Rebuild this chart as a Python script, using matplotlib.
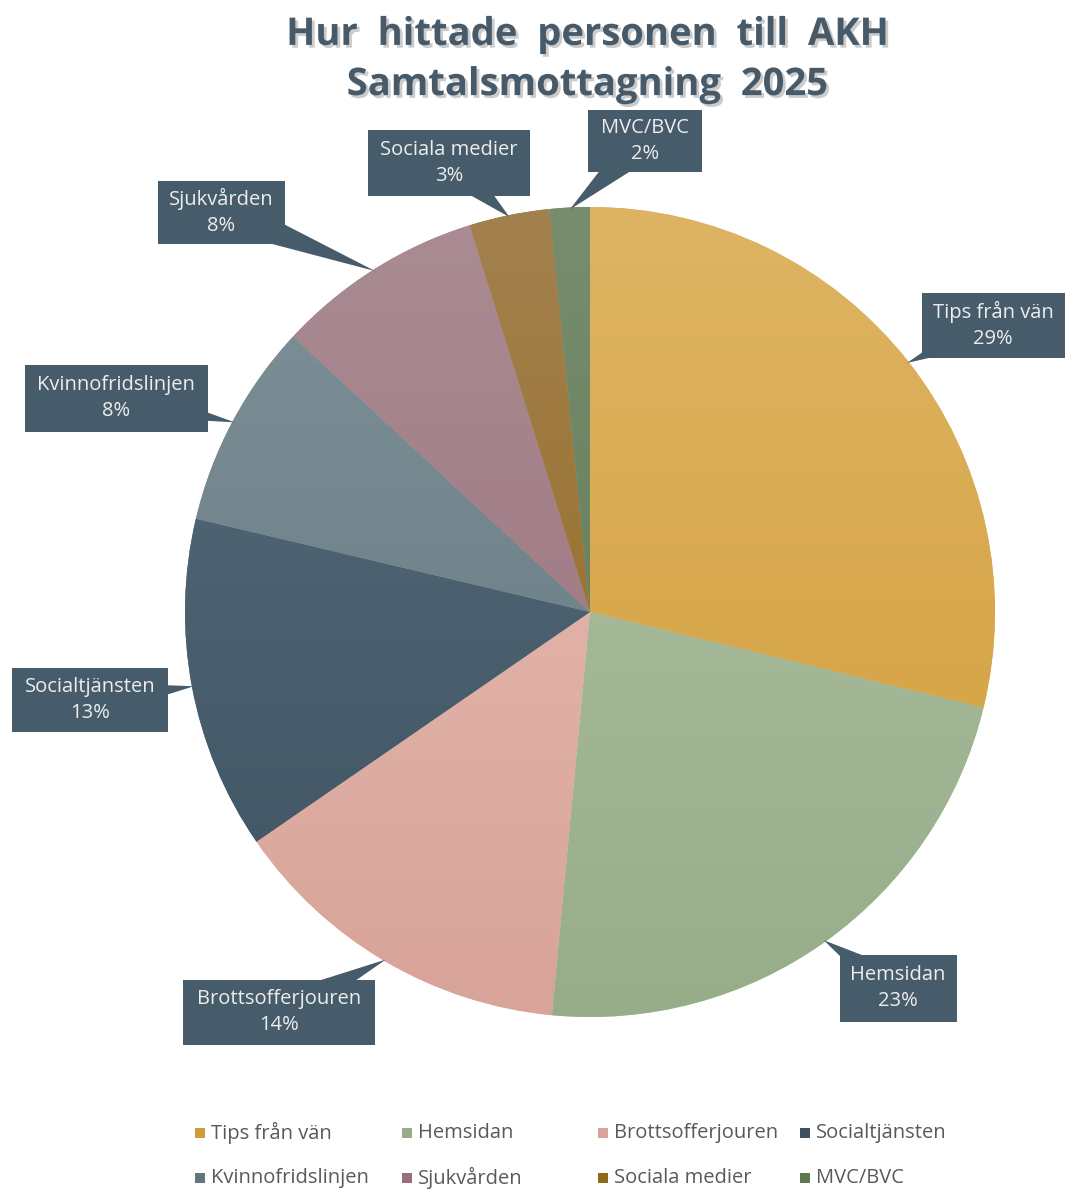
import numpy as np
import matplotlib.pyplot as plt
import matplotlib.patheffects as pe
from matplotlib.colors import to_rgb
from matplotlib.patches import Polygon, Rectangle

# data
categories = ["Tips från vän", "Hemsidan", "Brottsofferjouren", "Socialtjänsten",
              "Kvinnofridslinjen", "Sjukvården", "Sociala medier", "MVC/BVC"]
shares = [28.8, 22.7, 13.9, 13.3, 8.2, 8.3, 3.2, 1.6]
top_colors = ["#DEB463", "#B2C4A7", "#EAC0B7", "#586E7D", "#7F9198", "#AA8C93", "#A3814E", "#778D6E"]
bottom_colors = ["#D29D38", "#97AD89", "#D8A398", "#3E5260", "#63767E", "#9A6E7A", "#93681C", "#5E7853"]
title = "Hur  hittade  personen  till  AKH\nSamtalsmottagning  2025"

# layout (pixel units, y down)
W, H = 1065, 1189
cx, cy, R = 590, 612, 405
label_boxes = [(993, 325, 143, 65), (898, 988, 117, 67), (279, 1012, 192, 65), (90, 700, 156, 64),
               (116, 398, 183, 67), (221, 212, 127, 63), (449, 163, 162, 66), (645, 141, 114, 62)]
legend_pos = [(200, 1133), (407, 1133), (603, 1133), (805, 1133),
              (200, 1178), (407, 1178), (603, 1178), (805, 1178)]
box_color = "#475C6B"
font = "Open Sans"

fig = plt.figure(figsize=(W / 100, H / 100), dpi=100)
ax = fig.add_axes([0, 0, 1, 1])

wedges, _ = ax.pie(shares, startangle=-90, counterclock=True, center=(cx, cy), radius=R,
                   colors=top_colors, wedgeprops=dict(linewidth=0))

# vertical gradient in each slice
for w, c0, c1 in zip(wedges, top_colors, bottom_colors):
    t = np.linspace(0, 1, 256)[:, None]
    grad = (1 - t) * np.array(to_rgb(c0)) + t * np.array(to_rgb(c1))
    im = ax.imshow(grad[:, None, :], extent=(cx - R, cx + R, cy + R, cy - R),
                   aspect="auto", zorder=2, interpolation="bilinear")
    im.set_clip_path(w)

# callout labels
cum = np.cumsum([0] + shares)
for i, (name, val) in enumerate(zip(categories, shares)):
    phi = np.deg2rad((cum[i] + val / 2) / sum(shares) * 360)
    tx, ty = cx + R * 0.995 * np.sin(phi), cy - R * 0.995 * np.cos(phi)
    bx, by, bw, bh = label_boxes[i]
    d = np.array([tx - bx, ty - by])
    n = np.array([-d[1], d[0]]) / np.hypot(*d)
    hw = 18
    ax.add_patch(Polygon([(bx + n[0] * hw, by + n[1] * hw), (bx - n[0] * hw, by - n[1] * hw), (tx, ty)],
                         closed=True, facecolor=box_color, edgecolor="none", zorder=4))
    ax.add_patch(Rectangle((bx - bw / 2, by - bh / 2), bw, bh, facecolor=box_color,
                           edgecolor="none", zorder=5))
    ax.text(bx, by, f"{name}\n{val:.0f}%", ha="center", va="center", color="#EDEDED",
            fontsize=14.5, family=font, linespacing=1.4, zorder=6)

# legend
for (lx, ly), name, c0, c1 in zip(legend_pos, categories, top_colors, bottom_colors):
    ax.add_patch(Rectangle((lx - 5, ly - 5), 10, 10, facecolor=c1, edgecolor="none"))
    ax.text(lx + 11, ly, name, ha="left", va="center", color="#595959", fontsize=14.5, family=font)

ax.text(588, 60, title, ha="center", va="center", color="#475A69", fontsize=27.5,
        fontweight="bold", family=font, linespacing=1.42,
        path_effects=[pe.SimplePatchShadow(offset=(2, -2), shadow_rgbFace="#555555", alpha=0.3),
                      pe.Normal()])

ax.set_xlim(0, W)
ax.set_ylim(H, 0)
ax.set_aspect("equal")
ax.axis("off")
fig.savefig("out.png", dpi=100)
